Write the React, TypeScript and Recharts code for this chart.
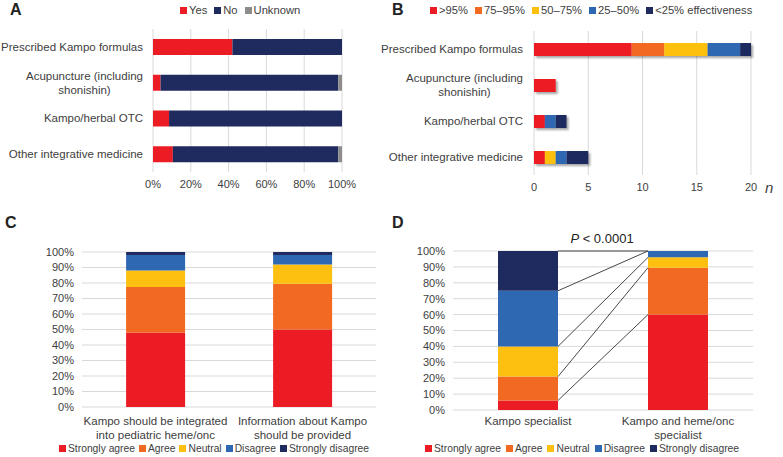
import React from 'react';
import { BarChart, Bar, XAxis, YAxis, CartesianGrid, ReferenceLine } from 'recharts';

const FONT = '"Liberation Sans", Arial, sans-serif';
const TEXT = '#404040';
const GRID = '#d9d9d9';

const RED = '#ec1c24';
const ORANGE = '#f26a21';
const YELLOW = '#fdc010';
const BLUE = '#2e68b2';
const NAVY = '#1f2a5e';
const GREY = '#8c8c8c';

// Panel A: use of integrative medicine (%)
const aCategories = ['Prescribed Kampo formulas', 'Acupuncture (including\nshonishin)', 'Kampo/herbal OTC', 'Other integrative medicine'];
const aYes = [42, 4, 8.5, 10.5];
const aNo = [58, 94, 91.5, 87.5];
const aUnknown = [0, 2, 0, 2];
const aSeries = ['Yes', 'No', 'Unknown'];
const aTicks = [0, 20, 40, 60, 80, 100];

// Panel B: perceived effectiveness (n)
const bCategories = aCategories;
const bSeries = ['>95%', '75–95%', '50–75%', '25–50%', '<25% effectiveness'];
const bOver95 = [9, 2, 1, 1];
const b75to95 = [3, 0, 0, 0];
const b50to75 = [4, 0, 0, 1];
const b25to50 = [3, 0, 1, 1];
const bUnder25 = [1, 0, 1, 2];
const bTicks = [0, 5, 10, 15, 20];

// Panels C and D: agreement (%)
const likert = ['Strongly agree', 'Agree', 'Neutral', 'Disagree', 'Strongly disagree'];
const cCategories = ['Kampo should be integrated\ninto pediatric heme/onc', 'Information about Kampo\nshould be provided'];
const cValues = [
  [48, 29.5, 10.5, 10, 2],
  [50, 29.5, 12.5, 6, 2],
];
const dCategories = ['Kampo specialist', 'Kampo and heme/onc\nspecialist'];
const dValues = [
  [6, 15, 19, 35, 25],
  [60, 29.5, 6.5, 4, 0],
];
const pctTicks = [0, 10, 20, 30, 40, 50, 60, 70, 80, 90, 100];

const aColors = [RED, NAVY, GREY];
const likertColors = [RED, ORANGE, YELLOW, BLUE, NAVY];
const keys = ['s0', 's1', 's2', 's3', 's4'];

const aData = aCategories.map((name, i) => ({ name, s0: aYes[i], s1: aNo[i], s2: aUnknown[i] }));
const bCols = [bOver95, b75to95, b50to75, b25to50, bUnder25];
const bData = bCategories.map((name, i) => {
  const row: any = { name };
  bCols.forEach((c, k) => (row[keys[k]] = c[i]));
  return row;
});
const toRows = (cats: string[], vals: number[][]) =>
  cats.map((name, i) => {
    const row: any = { name };
    vals[i].forEach((v, k) => (row[keys[k]] = v));
    return row;
  });
const cData = toRows(cCategories, cValues);
const dData = toRows(dCategories, dValues);

let ctx: CanvasRenderingContext2D | null = null;
function measure(t: string, size: number) {
  if (!ctx) ctx = document.createElement('canvas').getContext('2d');
  if (!ctx) return t.length * size * 0.5;
  ctx.font = `${size}px ${FONT}`;
  return ctx.measureText(t).width;
}

// right-aligned block, lines centered within it (like Excel)
const CatTick = (props: any) => {
  const { x, y, payload, size, shift } = props;
  const lines = String(payload.value).split('\n');
  const w = Math.max(...lines.map((l) => measure(l, size)));
  const cx = x - shift - w / 2;
  const lh = size * 1.2;
  const y0 = y - ((lines.length - 1) * lh) / 2;
  return (
    <text x={cx} y={y0} textAnchor="middle" fontSize={size} fill={TEXT} fontFamily={FONT}>
      {lines.map((l, i) => (
        <tspan key={i} x={cx} dy={i === 0 ? '0.35em' : lh}>{l}</tspan>
      ))}
    </text>
  );
};

const BottomTick = (props: any) => {
  const { x, y, payload } = props;
  const lines = String(payload.value).split('\n');
  return (
    <text x={x} y={y} textAnchor="middle" fontSize={11.5} fill={TEXT} fontFamily={FONT}>
      {lines.map((l, i) => (
        <tspan key={i} x={x} dy={i === 0 ? '0.71em' : '1.2em'}>{l}</tspan>
      ))}
    </text>
  );
};

const ShadowRect = (p: any) =>
  p.width > 0 ? <rect x={p.x} y={p.y} width={p.width} height={p.height} fill={p.fill} filter="url(#bshadow)" /> : null;

// connector between the two stacked bars, drawn from category centres via the axis scale
const Connector = (p: any) => {
  const half = (p.x2 - p.x1) * 0.2;
  return <line x1={p.x1 + half} y1={p.y1} x2={p.x2 - half} y2={p.y2} stroke="#333" strokeWidth={0.9} />;
};

function Legend({ names, colors, left, top, size, gap }: any) {
  return (
    <div style={{ position: 'absolute', left, top, display: 'flex', alignItems: 'center', fontSize: size, color: TEXT, fontFamily: FONT, whiteSpace: 'nowrap', gap }}>
      {names.map((n: string, i: number) => (
        <span key={n} style={{ display: 'flex', alignItems: 'center' }}>
          <span style={{ width: 7, height: 7, background: colors[i], marginRight: 2, display: 'inline-block' }} />
          {n}
        </span>
      ))}
    </div>
  );
}

const letter = (t: string, left: number, top: number) => (
  <div style={{ position: 'absolute', left, top, fontSize: 16, lineHeight: '18px', fontWeight: 700, fontFamily: FONT, color: '#222' }}>{t}</div>
);

export default function App() {
  const tick = { fontSize: 11, fill: TEXT, fontFamily: FONT };
  const cum = (vals: number[]) => vals.map((_, k) => vals.slice(0, k + 1).reduce((a, b) => a + b, 0));
  const d1 = cum(dValues[0]);
  const d2 = cum(dValues[1]);
  return (
    <div style={{ position: 'absolute', left: 0, top: 0, width: 783, height: 457, background: '#fff', fontFamily: FONT }}>
      {letter('A', 10, 1)}
      {letter('B', 392, 1)}
      {letter('C', 5, 214)}
      {letter('D', 392, 214)}

      <Legend names={aSeries} colors={aColors} left={180} top={4} size={11.2} gap={7} />
      <Legend names={bSeries} colors={likertColors} left={430} top={4} size={11.2} gap={7} />
      <Legend names={likert} colors={likertColors} left={59} top={443} size={10.3} gap={4} />
      <Legend names={likert} colors={likertColors} left={425} top={443} size={10.3} gap={5} />

      <div style={{ position: 'absolute', left: 0, top: 0 }}>
        <BarChart width={390} height={200} layout="vertical" data={aData} margin={{ top: 29, right: 48, bottom: 0, left: 0 }} barSize={16}>
          <CartesianGrid horizontal={false} stroke={GRID} />
          <XAxis type="number" domain={[0, 100]} ticks={aTicks} tickFormatter={(v) => `${v}%`} axisLine={false} tickLine={false} height={28} tick={tick} interval={0} />
          <YAxis type="category" dataKey="name" width={153} axisLine={false} tickLine={false} tick={<CatTick size={11.5} shift={2} />} interval={0} />
          {aSeries.map((s, k) => (
            <Bar key={s} dataKey={keys[k]} name={s} stackId="a" fill={aColors[k]} isAnimationActive={false} />
          ))}
        </BarChart>
      </div>

      <div style={{ position: 'absolute', left: 370, top: 0 }}>
        <BarChart width={413} height={200} layout="vertical" data={bData} margin={{ top: 31, right: 32, bottom: 0, left: 0 }} barSize={13}>
          <defs>
            <filter id="bshadow" x="-20%" y="-30%" width="150%" height="180%">
              <feDropShadow dx="2" dy="2" stdDeviation="1.2" floodColor="#000" floodOpacity="0.35" />
            </filter>
          </defs>
          <CartesianGrid horizontal={false} stroke={GRID} />
          <XAxis type="number" domain={[0, 20]} ticks={bTicks} axisLine={false} tickLine={false} height={25} tick={tick} interval={0}
            label={{ value: 'n', position: 'right', offset: 14, style: { fontStyle: 'italic', fontSize: 15, fill: TEXT, fontFamily: FONT } }} />
          <YAxis type="category" dataKey="name" width={164} axisLine={false} tickLine={false} tick={<CatTick size={11.5} shift={3} />} interval={0} />
          {bSeries.map((s, k) => (
            <Bar key={s} dataKey={keys[k]} name={s} stackId="b" fill={likertColors[k]} shape={ShadowRect} isAnimationActive={false} />
          ))}
        </BarChart>
      </div>

      <div style={{ position: 'absolute', left: 0, top: 230 }}>
        <BarChart width={390} height={227} data={cData} margin={{ top: 22, right: 14, bottom: 0, left: 0 }} barCategoryGap="30%">
          <CartesianGrid vertical={false} stroke={GRID} />
          <XAxis dataKey="name" axisLine={false} tickLine={false} height={50} tick={<BottomTick />} interval={0} tickMargin={4} />
          <YAxis domain={[0, 100]} ticks={pctTicks} interval={0} tickFormatter={(v) => `${v}%`} axisLine={false} tickLine={false} width={82} tick={tick} />
          {likert.map((s, k) => (
            <Bar key={s} dataKey={keys[k]} name={s} stackId="c" fill={likertColors[k]} isAnimationActive={false} />
          ))}
        </BarChart>
      </div>

      <div style={{ position: 'absolute', left: 390, top: 230 }}>
        <BarChart width={393} height={227} data={dData} margin={{ top: 21, right: 30, bottom: 0, left: 0 }} barCategoryGap="30%">
          <CartesianGrid vertical={false} stroke={GRID} />
          <XAxis dataKey="name" axisLine={false} tickLine={false} height={47} tick={<BottomTick />} interval={0} tickMargin={1} />
          <YAxis domain={[0, 100]} ticks={pctTicks} interval={0} tickFormatter={(v) => `${v}%`} axisLine={false} tickLine={false} width={63} tick={tick} />
          {likert.map((s, k) => (
            <Bar key={s} dataKey={keys[k]} name={s} stackId="d" fill={likertColors[k]} isAnimationActive={false} />
          ))}
          {d1.map((v, k) => (
            <ReferenceLine key={k} segment={[{ x: dCategories[0], y: v }, { x: dCategories[1], y: d2[k] }]} shape={Connector} ifOverflow="visible" />
          ))}
        </BarChart>
      </div>
      <div style={{ position: 'absolute', left: 540, top: 231, width: 124, textAlign: 'center', fontSize: 13, color: '#222', fontFamily: FONT }}>
        <i>P</i> &lt; 0.0001
      </div>
    </div>
  );
}
